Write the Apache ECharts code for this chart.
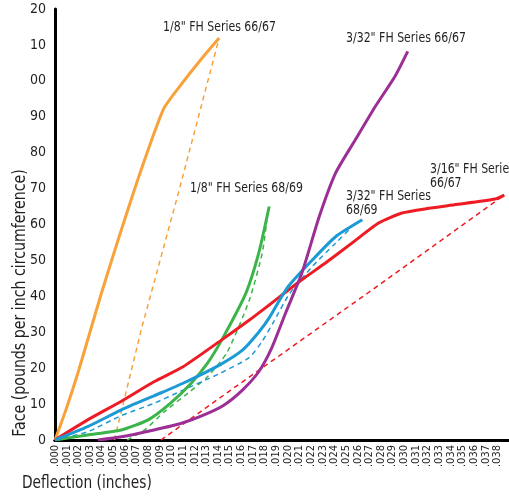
<!DOCTYPE html>
<html><head><meta charset="utf-8">
<script src="https://cdn.jsdelivr.net/npm/echarts@6/dist/echarts.min.js"></script>
<style>html,body{margin:0;padding:0;background:#fff}#c{width:509px;height:496px}</style>
</head><body><div id="c"></div>
<script>
var xTickLabels = ['.000','.001','.002','.003','.004','.005','.006','.007','.008','.009','.010','.011','.012','.013','.014','.015','.016','.017','.018','.019','.020','.021','.022','.023','.024','.025','.026','.027','.028','.029','.030','.031','.032','.033','.034','.035','.036','.037','.038'];
var yTickLabels = ['0','10','20','30','40','50','60','70','80','90','00','10','20'];

var orangeSolid = [[0,0],[0.001,9],[0.002,19],[0.003,30],[0.004,41],[0.0055,56.5],[0.0073,74.3],[0.0093,92],[0.0107,98.4],[0.0124,105.4],[0.0141,111.9]];
var orangeDashed = [[0.0051,0],[0.0074,30.6],[0.0107,70],[0.0141,111.9]];
var greenSolid = [[0,0],[0.0028,1.4],[0.0057,2.8],[0.008,5.6],[0.0099,10.2],[0.0117,15.8],[0.0131,21.4],[0.0144,28.3],[0.0164,40.9],[0.0175,52],[0.0184,65]];
var greenDashed = [[0.0062,0],[0.0077,2.8],[0.0094,7.9],[0.0114,13],[0.0131,17.6],[0.0148,24.5],[0.0167,39],[0.0178,52],[0.0182,61]];
var blueSolid = [[0,0],[0.0028,3.7],[0.0057,8.4],[0.0085,12.3],[0.011,15.8],[0.0142,21],[0.0161,25],[0.0175,30],[0.0184,34],[0.0193,39],[0.0201,43],[0.0221,50.1],[0.0241,56.6],[0.0264,61.3]];
var blueDashed = [[0,0],[0.0028,2.3],[0.0057,6.8],[0.0085,10.2],[0.011,13.9],[0.0142,18.6],[0.0167,23],[0.0178,27.5],[0.0188,33],[0.0201,40.5],[0.0221,48.3],[0.0241,54.8],[0.0255,59.3]];
var redSolid = [[0,0],[0.0028,5.6],[0.0057,10.8],[0.0085,16.2],[0.011,20.4],[0.0142,27.6],[0.0167,33.4],[0.0184,37.6],[0.0212,44.6],[0.0232,49.2],[0.0255,54.8],[0.0278,60.4],[0.0298,63.2],[0.0321,64.5],[0.0343,65.5],[0.0378,67.1],[0.0386,68.2]];
var redDashed = [[0.0091,0],[0.0145,12.5],[0.0269,41],[0.0386,68.2]];
var purpleSolid = [[0.0037,0],[0.0057,0.9],[0.0085,2.8],[0.0108,4.6],[0.0128,7],[0.0145,9.7],[0.0161,13.9],[0.0175,19],[0.0186,25.5],[0.0198,35.3],[0.0212,46.4],[0.0227,62.2],[0.0241,74.3],[0.0258,83.6],[0.0275,92.8],[0.0292,101.2],[0.0303,108.2]];

var FONT = '"Liberation Sans Narrow","DejaVu Sans Condensed","Roboto",sans-serif';
var TXT = '#231f20';
function solid(d, c) { return {type:'line', data:d, smooth:0.2, symbol:'none', lineStyle:{color:c, width:3}, z:3}; }
function dashed(d, c, s) { return {type:'line', data:d, smooth:s, symbol:'none', lineStyle:{color:c, width:1.5, type:[5,4]}, z:2}; }
function note(txt, x, y) { return {type:'text', x:x, y:y, scaleX:0.87, style:{text:txt, font:'14px '+FONT, fill:TXT, verticalAlign:'middle', lineHeight:14}}; }

var chart = echarts.init(document.getElementById('c'), null, {renderer:'canvas'});
chart.setOption({
  animation:false,
  grid:{left:55, top:9, width:458, height:431, containLabel:false},
  xAxis:[{
    type:'value', min:0, max:0.039, interval:0.001,
    axisLine:{show:true, onZero:false, lineStyle:{color:'#000', width:3}},
    axisTick:{show:false}, splitLine:{show:false},
    axisLabel:{rotate:90, margin:5, fontSize:11, fontFamily:FONT, color:TXT,
      formatter:function(v){ var i=Math.round(v*1000); return xTickLabels[i]||''; }}
  },{
    type:'value', position:'top', min:0, max:0.039,
    axisLine:{show:true, lineStyle:{color:'#000', width:3}},
    axisTick:{show:false}, axisLabel:{show:false}, splitLine:{show:false}
  }],
  yAxis:{
    type:'value', min:0, max:120, interval:10,
    axisLine:{show:true, lineStyle:{color:'#000', width:3}},
    axisTick:{show:false}, splitLine:{show:false},
    axisLabel:{margin:9, fontSize:14, fontFamily:FONT, color:TXT,
      formatter:function(v){ return yTickLabels[Math.round(v/10)]; }}
  },
  series:[
    dashed(orangeDashed,'#f7a23a',false), solid(orangeSolid,'#f7a23a'),
    dashed(greenDashed,'#3bb54a',0.2), solid(greenSolid,'#3bb54a'),
    dashed(redDashed,'#ed1c24',false), solid(redSolid,'#ed1c24'),
    dashed(blueDashed,'#1b9ad6',0.2), solid(blueSolid,'#1b9ad6'),
    solid(purpleSolid,'#9c2f96')
  ],
  graphic:[
    {type:'text', x:22, y:483, scaleX:0.85, style:{text:'Deflection (inches)', font:'18px '+FONT, fill:TXT, verticalAlign:'middle'}},
    {type:'text', x:20, y:303, rotation:Math.PI/2, scaleX:0.875, style:{text:'Face (pounds per inch circumference)', font:'18px '+FONT, fill:TXT, align:'center', verticalAlign:'middle'}},
    note('1/8" FH Series 66/67', 163, 27),
    note('3/32" FH Series 66/67', 346, 38),
    note('1/8" FH Series 68/69', 190, 188),
    note('3/32" FH Series\n68/69', 346, 203),
    note('3/16" FH Series\n66/67', 430, 176)
  ]
});
</script></body></html>
